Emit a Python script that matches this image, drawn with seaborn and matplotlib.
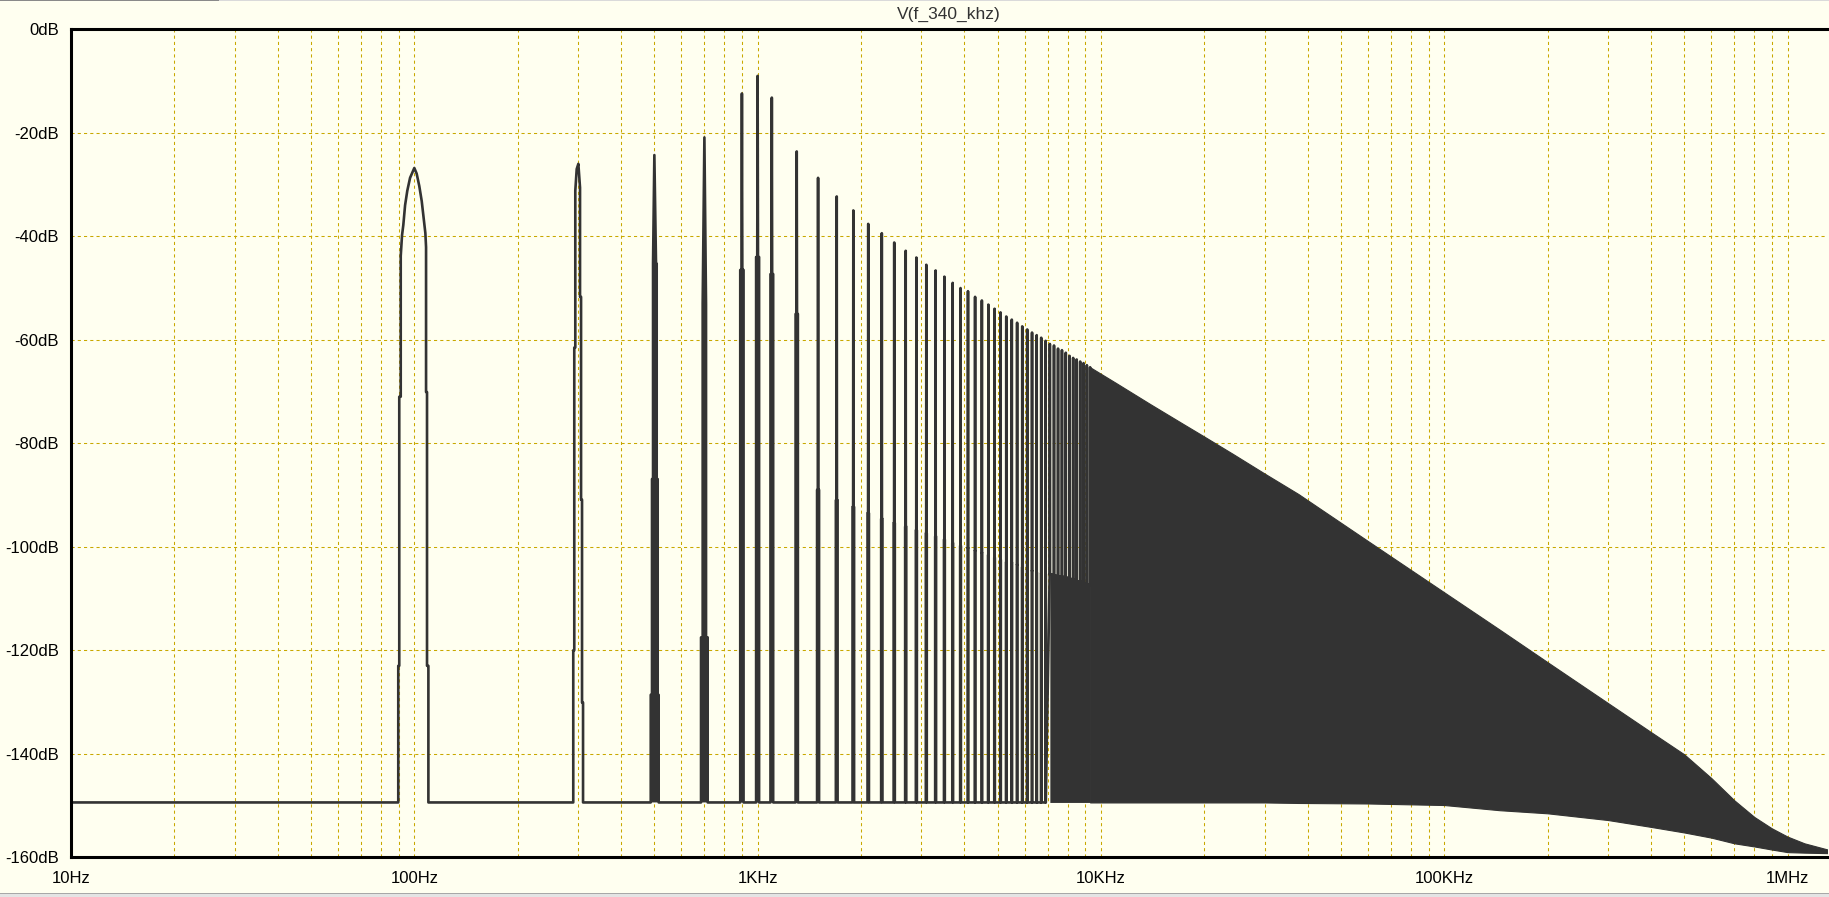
import numpy as np
import pandas as pd
import matplotlib
matplotlib.use("Agg")
import matplotlib.pyplot as plt
from matplotlib.ticker import FixedLocator, FixedFormatter, LogLocator, NullFormatter
from matplotlib.patches import Rectangle
import seaborn as sns

# ------------------------------------------------------------------ data
title_text = "V(f_340_khz)"
noise_floor_db = -149.4

xtick_vals = [10, 100, 1e3, 1e4, 1e5, 1e6]
xtick_labels = ["10Hz", "100Hz", "1KHz", "10KHz", "100KHz", "1MHz"]
ytick_vals = [0, -20, -40, -60, -80, -100, -120, -140, -160]
ytick_labels = ["0dB", "-20dB", "-40dB", "-60dB", "-80dB", "-100dB", "-120dB", "-140dB", "-160dB"]

# detailed profiles of the first lines (Hz, dB)
hump_f = [89.8, 89.8, 90.4, 90.4, 91.3, 91.3, 92.1, 92.9, 94.0, 95.4, 97.2, 100.0,
          101.6, 103.4, 105.1, 106.5, 107.7, 108.2, 108.2, 108.9, 108.9, 109.9, 109.9]
hump_db = [-149.4, -123.0, -123.0, -71.0, -71.0, -43.8, -39.8, -37.8, -34.0, -31.2, -28.7, -26.8,
           -27.9, -30.3, -33.2, -36.5, -39.4, -42.1, -70.1, -70.1, -123.0, -123.0, -149.4]

s300_f = [290.4, 290.4, 292.4, 292.4, 294.4, 294.4, 297.2, 300.5, 303.9, 303.9,
          306.0, 306.0, 308.0, 308.0, 310.1, 310.1]
s300_db = [-149.4, -120.0, -120.0, -61.5, -61.5, -31.2, -27.0, -26.0, -30.6, -51.7,
           -51.7, -90.9, -90.9, -130.1, -130.1, -149.4]

s500_f = [488.3, 488.3, 492.5, 492.5, 495.9, 495.9, 500.3, 505.9, 508.2, 508.2,
          511.6, 511.6, 515.0, 515.0]
s500_db = [-149.4, -128.6, -128.6, -86.9, -86.9, -45.3, -24.3, -45.3, -45.3, -86.9,
           -86.9, -128.6, -128.6, -149.4]

s700_f = [684.2, 684.2, 691.8, 691.8, 699.8, 707.5, 707.5, 715.4, 715.4]
s700_db = [-149.4, -117.5, -117.5, -53.1, -20.9, -53.1, -117.5, -117.5, -149.4]

# remaining discrete lines
spike_f = [900, 1000, 1100, 1300, 1500, 1700, 1900, 2100, 2300, 2500, 2700, 2900,
           3100, 3300, 3500, 3700, 3900, 4100, 4300, 4500, 4700, 4900, 5100, 5300,
           5500, 5700, 5900, 6100, 6300, 6500, 6700, 6900, 7100, 7300, 7500, 7700,
           7900, 8100, 8300, 8500, 8700, 8900, 9100, 9300]
spike_peak_db = [-12.4, -9.0, -13.2, -23.6, -28.7, -32.3, -35.0, -37.6, -39.4, -41.2, -42.8, -44.1,
                 -45.5, -46.6, -47.8, -49.0, -50.0, -50.6, -51.7, -52.4, -53.2, -54.0, -54.7, -55.5,
                 -56.1, -56.7, -57.4, -58.0, -58.6, -59.1, -59.6, -60.2, -60.8, -61.1, -61.7, -62.0,
                 -62.5, -63.1, -63.5, -63.8, -64.2, -64.5, -64.9, -65.3]
spike_shoulder_db = [-46.5, -44.0, -47.3, -55.0, -89.0, -91.0, -92.3, -93.5, -94.6, -95.4, -96.1, -96.8,
                     -97.4, -98.0, -98.6, -99.3, -99.8, -100.3, -100.8, -101.2, -101.6, -102.1, -102.5, -103.0,
                     -103.1, -103.5, -104.0, -104.4, -104.7, -105.0, -105.2, -105.3, -105.3, -105.5, -105.7, -105.8,
                     -105.9, -106.1, -106.4, -106.6, -106.8, -107.0, -107.2, -107.4]
spike_floor_db = [-149.4] * 32 + [-105.3, -105.5, -105.7, -105.8, -105.9, -106.1,
                                  -106.4, -106.6, -106.8, -107.0, -107.2, -107.4]

# dense part of the spectrum (envelopes)
env_f = [9300, 11100, 13900, 17400, 20000, 24300, 29900, 37600, 60000, 100000, 145000,
         200000, 300000, 398000, 500000, 600000, 700000, 800000, 900000, 1000000, 1120000, 1310000]
env_top_db = [-65.3, -68.4, -72.4, -76.3, -78.7, -82.1, -85.8, -89.8, -98.9, -108.8, -116.0,
              -122.3, -130.2, -135.7, -140.1, -144.7, -149.0, -152.2, -154.4, -156.0, -157.3, -158.5]
env_bot_db = [-149.4, -149.4, -149.4, -149.4, -149.4, -149.4, -149.4, -149.5, -149.6, -149.9, -150.9,
              -151.5, -152.8, -154.1, -155.2, -156.2, -157.3, -157.9, -158.5, -159.0, -159.1, -159.2]

# ------------------------------------------------------------------ style
BG = "#FFFFF0"
TRACE = "#333333"
GRID = "#C9A800"
HS, HT = 10.0, 2.5   # line half-widths (Hz) at the shoulder and at the top

sns.set_style("white")
plt.rcParams["font.family"] = ["Liberation Sans", "DejaVu Sans"]

# build the trace table
fx, fy = [10.0], [noise_floor_db]
for pf, pdb in [(hump_f, hump_db), (s300_f, s300_db), (s500_f, s500_db), (s700_f, s700_db)]:
    fx += pf
    fy += pdb
spike_polys = []
for f, pk, sh, fl in zip(spike_f, spike_peak_db, spike_shoulder_db, spike_floor_db):
    px = [f - HS, f - HS, f - HT, f, f + HT, f + HS, f + HS]
    py = [fl, sh, sh, pk, sh, sh, fl]
    spike_polys.append((px, py))
    fx += px
    fy += py
trace = pd.DataFrame({"freq": fx, "db": fy})

W, H = 1829, 897
fig = plt.figure(figsize=(W / 100, H / 100), dpi=100, facecolor=BG)
left, right, top, bottom = 71 / W, 1827 / W, 29.3 / H, 857.3 / H
ax = fig.add_axes([left, 1 - bottom, right - left, bottom - top])
ax.set_facecolor(BG)
ax.set_xscale("log")

sns.lineplot(data=trace, x="freq", y="db", sort=False, estimator=None,
             color=TRACE, linewidth=1.9, ax=ax, legend=False)

# the narrow lines are solid
for px, py in spike_polys + [(s500_f, s500_db), (s700_f, s700_db)]:
    ax.fill(px, py, color=TRACE, linewidth=0)

# valley region under the closely spaced lines
k = next(i for i, v in enumerate(spike_floor_db) if v > noise_floor_db)
ax.fill_between(spike_f[k:], noise_floor_db, spike_floor_db[k:], color=TRACE, linewidth=0)
# dense region
ax.fill_between(env_f, env_bot_db, env_top_db, color=TRACE, linewidth=0.8, edgecolor=TRACE)

ax.set_xlim(10, 1.303e6)
ax.set_ylim(-160, 0)
ax.set_xlabel("")
ax.set_ylabel("")

ax.xaxis.set_major_locator(FixedLocator(xtick_vals))
ax.xaxis.set_major_formatter(FixedFormatter(xtick_labels))
ax.xaxis.set_minor_locator(LogLocator(base=10, subs=range(2, 10), numticks=20))
ax.xaxis.set_minor_formatter(NullFormatter())
ax.yaxis.set_major_locator(FixedLocator(ytick_vals))
ax.yaxis.set_major_formatter(FixedFormatter(ytick_labels))

ax.set_axisbelow(True)
ax.grid(which="both", axis="x", color=GRID, linestyle=(0, (3, 3)), linewidth=0.75)
ax.grid(which="major", axis="y", color=GRID, linestyle=(0, (3, 3)), linewidth=0.75)

ax.tick_params(axis="both", which="major", direction="out", length=8, width=2.2,
               color="black", labelsize=12, labelcolor="black")
ax.tick_params(axis="x", which="major", pad=2)
ax.tick_params(axis="y", which="major", pad=0.8)
ax.tick_params(axis="x", which="minor", direction="out", length=3.6, width=1.5, color="black")

for s in ["left", "top", "bottom"]:
    ax.spines[s].set_linewidth(2.2)
    ax.spines[s].set_color("black")
ax.spines["right"].set_visible(False)

fig.text((left + right) / 2, 1 - 14 / H, title_text, ha="center", va="center",
         fontsize=12.5, color="#333333")

# window border traces
fig.patches.append(Rectangle((0, 1 - 1.5 / H), 219 / W, 1.5 / H, transform=fig.transFigure,
                             color="#8A8A8A", lw=0))
fig.patches.append(Rectangle((219 / W, 1 - 1.5 / H), 1 - 219 / W, 1.5 / H, transform=fig.transFigure,
                             color="#DADADA", lw=0))
fig.patches.append(Rectangle((0, 0), 1, 4 / H, transform=fig.transFigure, color="#E4E4E4", lw=0))
fig.patches.append(Rectangle((0, 3 / H), 1, 1.2 / H, transform=fig.transFigure, color="#A8A8A8", lw=0))

fig.savefig("out.png", dpi=100, facecolor=BG)
